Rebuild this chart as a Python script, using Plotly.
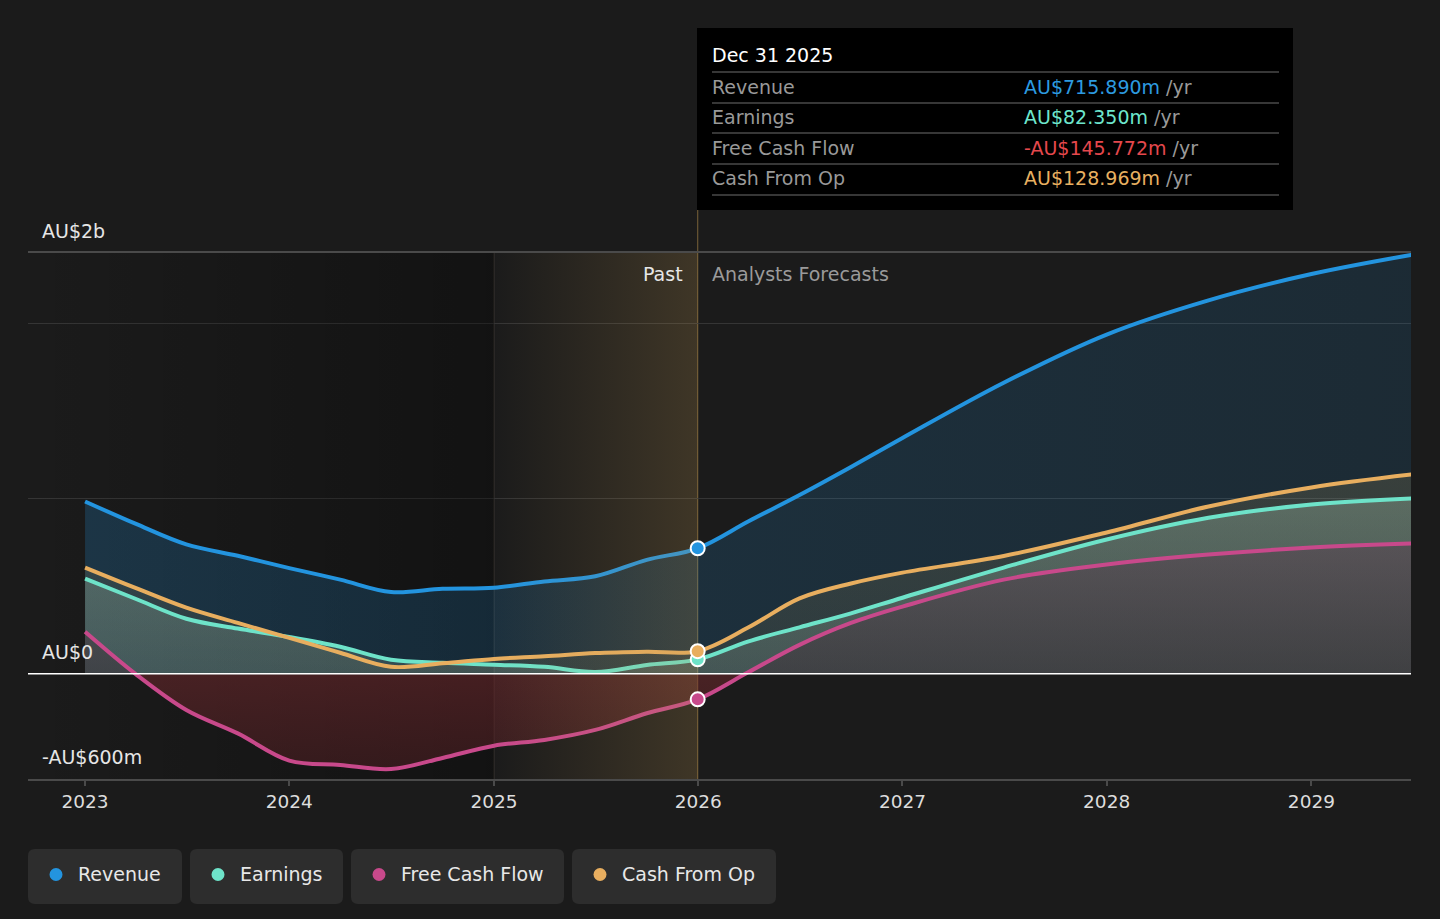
import datetime
import plotly.graph_objects as go

# ---------------- data (values in AU$ billions) ----------------
dates = ["2023-01-01", "2023-04-01", "2023-07-01", "2023-10-01", "2024-01-01",
         "2024-04-01", "2024-07-01", "2024-10-01", "2025-01-01", "2025-04-01",
         "2025-07-01", "2025-10-01", "2025-12-31", "2026-04-01", "2026-07-01",
         "2026-10-01", "2027-01-01", "2027-07-01", "2028-01-01", "2028-07-01",
         "2029-01-01", "2029-06-30"]
revenue = [0.983, 0.856, 0.738, 0.673, 0.603, 0.537, 0.466, 0.485, 0.491, 0.527,
           0.556, 0.65, 0.71589, 0.87, 1.02, 1.18, 1.345, 1.66, 1.935, 2.13, 2.28, 2.39]
earnings = [0.543, 0.428, 0.314, 0.258, 0.21, 0.154, 0.08, 0.063, 0.052, 0.04,
            0.01, 0.05, 0.08235, 0.185, 0.265, 0.345, 0.434, 0.606, 0.766, 0.89, 0.965, 1.0]
free_cash_flow = [0.24, 0.0, -0.206, -0.34, -0.495, -0.52, -0.543, -0.48, -0.41, -0.377,
                  -0.32, -0.225, -0.145772, 0.01, 0.165, 0.29, 0.383, 0.537, 0.623, 0.68, 0.72, 0.743]
cash_from_op = [0.606, 0.49, 0.377, 0.29, 0.205, 0.12, 0.04, 0.06, 0.085, 0.10,
                0.118, 0.126, 0.128969, 0.265, 0.43, 0.515, 0.577, 0.672, 0.806, 0.954, 1.063, 1.137]

past_start = "2025-01-01"
past_end = "2025-12-31"
tick_years = [2023, 2024, 2025, 2026, 2027, 2028, 2029]
y_label_vals = [2.4, 0.0, -0.6]
y_label_text = ["AU$2b", "AU$0", "-AU$600m"]

series_names = ["Revenue", "Earnings", "Free Cash Flow", "Cash From Op"]
series_values = [revenue, earnings, free_cash_flow, cash_from_op]
series_colors = ["#2394df", "#6ee3c9", "#c8498b", "#e8ae5f"]
value_colors = ["#2d9be0", "#6ee6cd", "#e5484d", "#e8b060"]

# ---------------- layout geometry ----------------
FIG_W, FIG_H = 1440, 919
L, R, T, B = 28, 1411, 253, 779
PW, PH = R - L, B - T
X0, X1 = "2022-09-21", "2029-06-28"
Y0, Y1 = -0.6, 2.4
FONT = "DejaVu Sans"
FS = 19
BG = "#1b1b1b"


def px(x):
    return (x - L) / PW


def py(y):
    return (B - y) / PH


fig = go.Figure()

# darker past background (gradient)
fig.add_trace(go.Scatter(x=[X0, past_start], y=[Y0, Y0], mode="lines", line=dict(width=0),
                         hoverinfo="skip", showlegend=False))
fig.add_trace(go.Scatter(x=[X0, past_start], y=[Y1, Y1], mode="lines", line=dict(width=0),
                         fill="tonexty",
                         fillgradient=dict(type="horizontal",
                                           colorscale=[[0, "rgba(0,0,0,0.0)"], [1, "rgba(0,0,0,0.32)"]]),
                         hoverinfo="skip", showlegend=False))

# area fills
fill_grad = {
    "Revenue": dict(type="horizontal", colorscale=[[0, "rgba(35,148,223,0.22)"], [0.3, "rgba(35,148,223,0.18)"],
                                                   [1, "rgba(35,148,223,0.13)"]]),
    "Cash From Op": dict(type="vertical", colorscale=[[0, "rgba(215,180,100,0.09)"], [1, "rgba(215,180,100,0.15)"]]),
    "Earnings": dict(type="vertical", colorscale=[[0, "rgba(150,180,160,0.22)"], [1, "rgba(170,205,180,0.32)"]]),
    "Free Cash Flow": dict(type="vertical", start=-0.6, stop=0.75,
                           colorscale=[[0, "rgba(80,30,34,0.5)"], [0.44, "rgba(110,40,44,0.55)"],
                                       [0.445, "rgba(60,52,58,0.6)"], [1, "rgba(88,70,82,0.6)"]]),
}
SMOOTH = 1.0
for name in ["Revenue", "Cash From Op", "Earnings", "Free Cash Flow"]:
    i = series_names.index(name)
    fig.add_trace(go.Scatter(x=dates, y=series_values[i], mode="lines",
                             line=dict(width=0, shape="spline", smoothing=SMOOTH),
                             fill="tozeroy", fillgradient=fill_grad[name],
                             hoverinfo="skip", showlegend=False))

# lines
for name, vals, col in zip(series_names, series_values, series_colors):
    fig.add_trace(go.Scatter(x=dates, y=vals, mode="lines", name=name,
                             line=dict(width=4, color=col, shape="spline", smoothing=SMOOTH),
                             hoverinfo="skip", showlegend=False))

# past band overlay (gold gradient)
fig.add_trace(go.Scatter(x=[past_start, past_end], y=[Y0, Y0], mode="lines", line=dict(width=0),
                         hoverinfo="skip", showlegend=False))
fig.add_trace(go.Scatter(x=[past_start, past_end], y=[Y1, Y1], mode="lines", line=dict(width=0),
                         fill="tonexty",
                         fillgradient=dict(type="horizontal",
                                           colorscale=[[0, "rgba(190,150,80,0.0)"], [1, "rgba(190,150,80,0.22)"]]),
                         hoverinfo="skip", showlegend=False))

# markers at the last reported point
idx = dates.index(past_end)
for vals, col in zip(series_values, series_colors):
    fig.add_trace(go.Scatter(x=[dates[idx]], y=[vals[idx]], mode="markers",
                             marker=dict(size=14, color=col, line=dict(color="white", width=2)),
                             hoverinfo="skip", showlegend=False))

shapes = []
# zero line
shapes.append(dict(type="line", xref="paper", yref="y", x0=0, x1=1, y0=0, y1=0,
                   line=dict(color="#ffffff", width=1.5), layer="above"))
# 2025 faint divider
shapes.append(dict(type="line", xref="x", yref="paper", x0=past_start, x1=past_start, y0=0, y1=1,
                   line=dict(color="#3a3631", width=1), layer="below"))
# gold divider at last reported date
shapes.append(dict(type="line", xref="x", yref="paper", x0=past_end, x1=past_end, y0=0, y1=py(210),
                   line=dict(color="#6a5633", width=1.2), layer="below"))
# tooltip box
shapes.append(dict(type="rect", xref="paper", yref="paper", x0=px(697), x1=px(1293),
                   y0=py(210), y1=py(28), fillcolor="#000000", line=dict(width=0), layer="above"))
for yy in [72, 103, 133, 164, 195]:
    shapes.append(dict(type="line", xref="paper", yref="paper", x0=px(712), x1=px(1279),
                       y0=py(yy), y1=py(yy), line=dict(color="#4a4a4a", width=1.5), layer="above"))

annotations = []
# y labels
for v, t in zip(y_label_vals, y_label_text):
    annotations.append(dict(xref="paper", yref="y", x=px(40), y=v, yshift=22, text=t,
                            showarrow=False, xanchor="left", yanchor="middle",
                            font=dict(family=FONT, size=FS, color="#e6e6e6")))
# Past / forecast labels
annotations.append(dict(xref="x", yref="paper", x=past_end, y=py(274), xshift=-13, text="Past",
                        showarrow=False, xanchor="right", yanchor="middle",
                        font=dict(family=FONT, size=FS, color="#e6e6e6")))
annotations.append(dict(xref="x", yref="paper", x=past_end, y=py(274), xshift=12, text="Analysts Forecasts",
                        showarrow=False, xanchor="left", yanchor="middle",
                        font=dict(family=FONT, size=FS, color="#9a9a9a")))

# tooltip texts
d = datetime.date.fromisoformat(past_end)
annotations.append(dict(xref="paper", yref="paper", x=px(710), y=py(55),
                        text=f"{d.strftime('%b')} {d.day} {d.year}", showarrow=False,
                        xanchor="left", yanchor="middle",
                        font=dict(family=FONT, size=FS, color="#ffffff")))
row_y = [87, 117, 148, 178]
for name, vals, vcol, yy in zip(series_names, series_values, value_colors, row_y):
    v = vals[idx] * 1000
    sign = "-" if v < 0 else ""
    annotations.append(dict(xref="paper", yref="paper", x=px(710), y=py(yy), text=name,
                            showarrow=False, xanchor="left", yanchor="middle",
                            font=dict(family=FONT, size=FS, color="#999999")))
    annotations.append(dict(xref="paper", yref="paper", x=px(1022), y=py(yy),
                            text=f"<span style='color:{vcol}'>{sign}AU${abs(v):.3f}m</span>"
                                 f"<span style='color:#999999'> /yr</span>",
                            showarrow=False, xanchor="left", yanchor="middle",
                            font=dict(family=FONT, size=FS, color=vcol)))

# custom legend
legend_boxes = [(28, 182), (190, 343), (351, 564), (572, 776)]
ly0, ly1 = 849, 904
rx, ry = 7 / PW, 7 / PH


def rounded(x0p, x1p, y0p, y1p):
    a0, a1 = px(x0p), px(x1p)
    b0, b1 = py(y1p), py(y0p)
    return (f"M {a0 + rx},{b0} L {a1 - rx},{b0} Q {a1},{b0} {a1},{b0 + ry} "
            f"L {a1},{b1 - ry} Q {a1},{b1} {a1 - rx},{b1} L {a0 + rx},{b1} "
            f"Q {a0},{b1} {a0},{b1 - ry} L {a0},{b0 + ry} Q {a0},{b0} {a0 + rx},{b0} Z")


for (bx0, bx1), name, col in zip(legend_boxes, series_names, series_colors):
    shapes.append(dict(type="path", xref="paper", yref="paper", path=rounded(bx0, bx1, ly0, ly1),
                       fillcolor="#2d2d2d", line=dict(width=0), layer="above"))
    cx, cy = bx0 + 28, (ly0 + ly1) / 2 - 2
    shapes.append(dict(type="circle", xref="paper", yref="paper",
                       x0=px(cx - 6.5), x1=px(cx + 6.5), y0=py(cy + 6.5), y1=py(cy - 6.5),
                       fillcolor=col, line=dict(width=0), layer="above"))
    annotations.append(dict(xref="paper", yref="paper", x=px(bx0 + 48), y=py(cy - 1), text=name,
                            showarrow=False, xanchor="left", yanchor="middle",
                            font=dict(family=FONT, size=FS, color="#e8e8e8")))

fig.update_layout(
    width=FIG_W, height=FIG_H,
    margin=dict(l=L, r=FIG_W - R, t=T, b=FIG_H - B, pad=0),
    paper_bgcolor=BG, plot_bgcolor=BG,
    hovermode=False, showlegend=False,
    shapes=shapes, annotations=annotations,
    font=dict(family=FONT, color="#dddddd"),
    xaxis=dict(type="date", range=[X0, X1],
               tickvals=[f"{y}-01-01" for y in tick_years], ticktext=[str(y) for y in tick_years],
               tickfont=dict(family=FONT, size=FS - 0.5, color="#dddddd"),
               showgrid=False, zeroline=False, showline=True, mirror=True,
               linecolor="#4a4a4a", linewidth=1.5,
               ticks="outside", ticklen=5, tickcolor="#4a4a4a", tickwidth=1.5),
    yaxis=dict(range=[Y0, Y1], tickvals=[0, 1, 2], showticklabels=False, ticks="",
               showgrid=True, gridcolor="#353535", gridwidth=1, zeroline=False, showline=False),
)

fig.write_html("out.html", config={"displayModeBar": False},
               post_script="document.body.style.margin='0';document.body.style.background='#1b1b1b';")
